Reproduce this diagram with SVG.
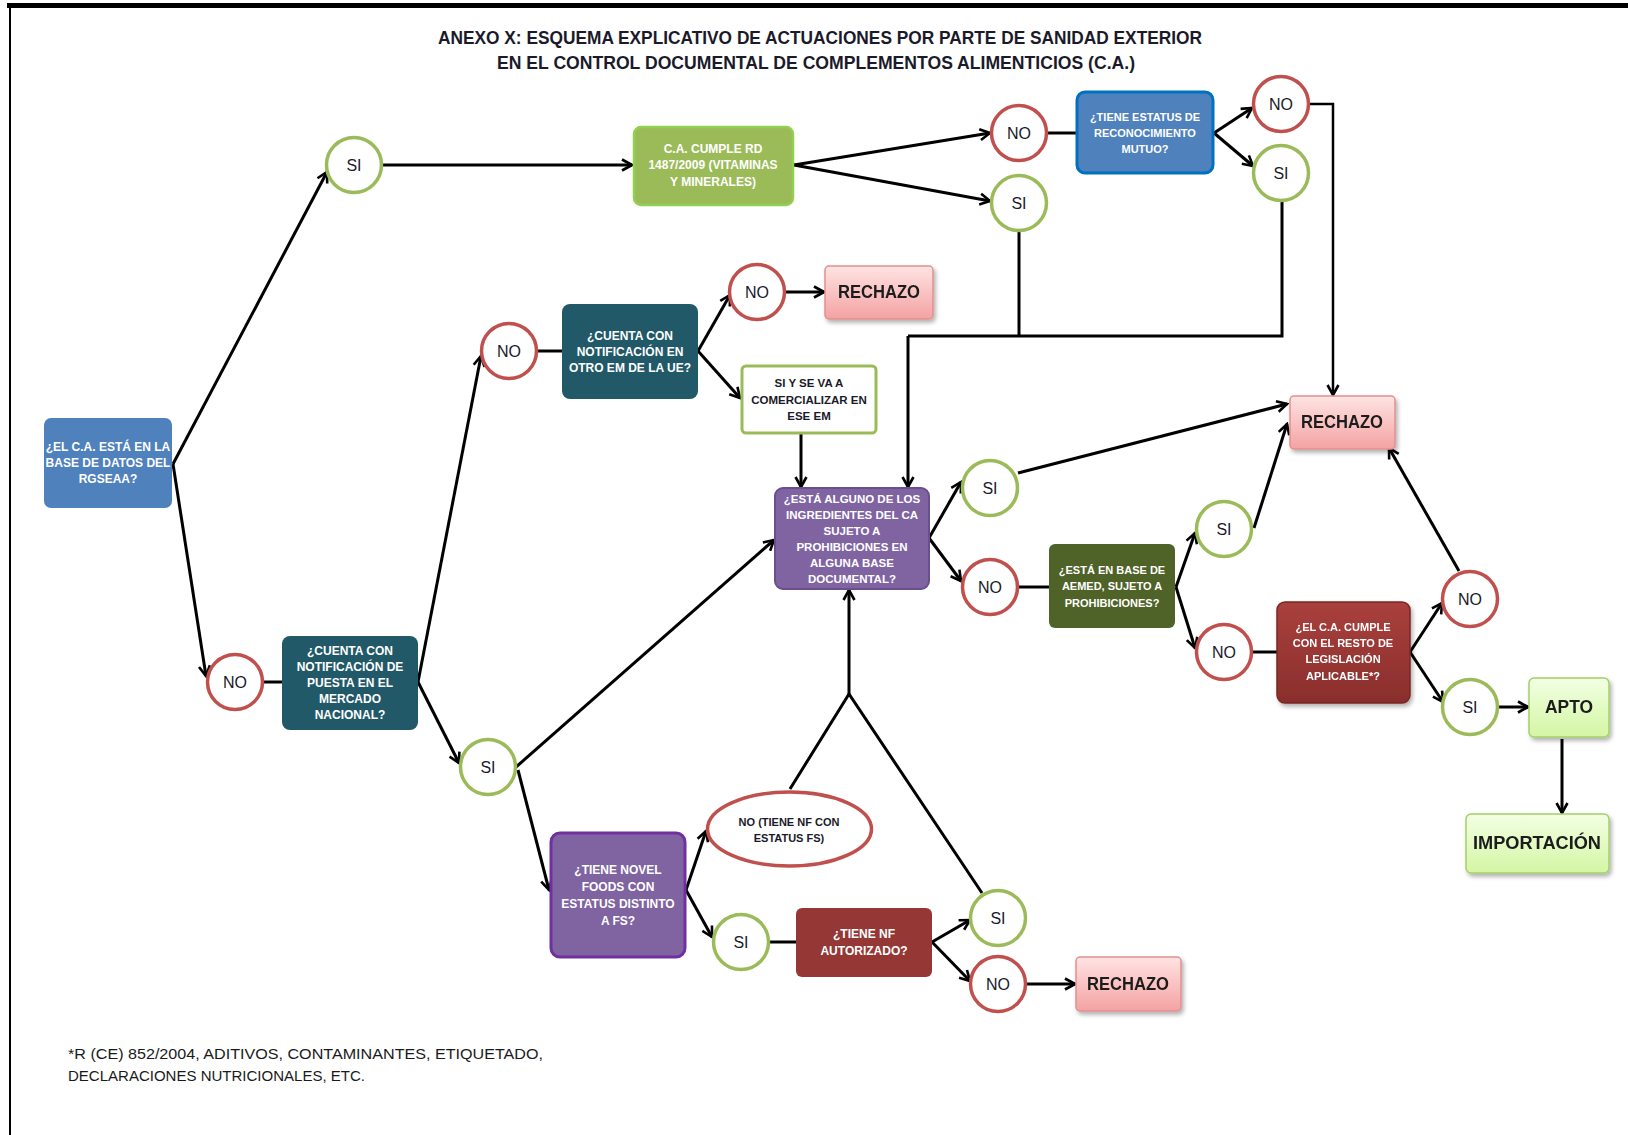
<svg xmlns="http://www.w3.org/2000/svg" width="1628" height="1135" viewBox="0 0 1628 1135" xml:space="preserve">
<style>
text{font-family:"Liberation Sans",Arial,sans-serif}
.bt{font-size:12px;font-weight:bold;fill:#fff;text-anchor:middle}
.dt{font-size:11.5px;font-weight:bold;fill:#1a1a2a;text-anchor:middle}
.ct{font-size:16px;fill:#1a1a2a;text-anchor:middle}
.big{font-size:18px;font-weight:bold;fill:#1a1a1a;text-anchor:middle}
.cg{fill:#fff;stroke:#9bbb59;stroke-width:3.5}
.cr{fill:#fff;stroke:#c0504d;stroke-width:3.5}
.rej{fill:url(#gRej);stroke:#e0918f;stroke-width:1.5}
.ok{fill:url(#gOk);stroke:#a6ce6b;stroke-width:1.5}
#edges path,#edges line{fill:none;stroke:#000;stroke-width:3}
.a{marker-end:url(#ah)}
</style>
<defs>
<linearGradient id="gRej" x1="0" y1="0" x2="0" y2="1"><stop offset="0" stop-color="#ffe3e3"/><stop offset="1" stop-color="#f4a2a2"/></linearGradient>
<linearGradient id="gOk" x1="0" y1="0" x2="0" y2="1"><stop offset="0" stop-color="#f2ffe4"/><stop offset="1" stop-color="#d4f6a4"/></linearGradient>
<linearGradient id="gDr" x1="0" y1="0" x2="0" y2="1"><stop offset="0" stop-color="#a9403d"/><stop offset="1" stop-color="#8a2e2c"/></linearGradient>
<filter id="sh" x="-20%" y="-20%" width="150%" height="160%"><feDropShadow dx="2" dy="3" stdDeviation="2" flood-color="#000" flood-opacity="0.3"/></filter>
<marker id="ah" viewBox="0 0 14 14" refX="12" refY="7" markerWidth="14" markerHeight="14" markerUnits="userSpaceOnUse" orient="auto"><path d="M2,1.5 L12,7 L2,12.5" fill="none" stroke="#000" stroke-width="2.6"/></marker>
</defs>
<rect width="1628" height="1135" fill="#fff"/>
<line x1="7" y1="5.5" x2="1628" y2="5.5" stroke="#000" stroke-width="5"/>
<line x1="10" y1="4" x2="10" y2="1135" stroke="#000" stroke-width="2"/>
<g id="title">
<text x="820" y="44" font-size="18" font-weight="bold" fill="#1a1a2a" text-anchor="middle" textLength="764" lengthAdjust="spacingAndGlyphs">ANEXO X: ESQUEMA EXPLICATIVO DE  ACTUACIONES POR PARTE DE SANIDAD EXTERIOR</text>
<text x="816" y="69" font-size="18" font-weight="bold" fill="#1a1a2a" text-anchor="middle" textLength="638" lengthAdjust="spacingAndGlyphs">EN EL CONTROL DOCUMENTAL DE COMPLEMENTOS ALIMENTICIOS (C.A.)</text>
</g>
<g id="edges">
<line class="a" x1="173" y1="464" x2="327" y2="172"/>
<line class="a" x1="173" y1="464" x2="206" y2="676"/>
<line class="a" x1="383" y1="165" x2="632" y2="165"/>
<line x1="263" y1="682" x2="282" y2="682"/>
<line class="a" x1="418" y1="682" x2="481" y2="356"/>
<line class="a" x1="418" y1="682" x2="459" y2="763"/>
<line x1="537" y1="351" x2="562" y2="351"/>
<line class="a" x1="698" y1="351" x2="730" y2="295"/>
<line class="a" x1="698" y1="351" x2="740" y2="398"/>
<line class="a" x1="786" y1="292" x2="824" y2="292"/>
<line class="a" x1="801" y1="433" x2="801" y2="487"/>
<line class="a" x1="794" y1="165" x2="990" y2="133"/>
<line class="a" x1="794" y1="165" x2="990" y2="201"/>
<line x1="1047" y1="133" x2="1077" y2="133"/>
<line class="a" x1="1214" y1="133" x2="1252" y2="108"/>
<line class="a" x1="1214" y1="133" x2="1253" y2="166"/>
<path class="a" d="M1308,104 H1333 V395" style="stroke-width:2.5"/>
<path d="M1019,231 V336"/>
<path d="M1282,200 V336 H908"/>
<path class="a" d="M908,336 V487"/>
<line class="a" x1="516" y1="767" x2="774" y2="540"/>
<line class="a" x1="518" y1="770" x2="549" y2="890"/>
<line class="a" x1="929" y1="538" x2="961" y2="482"/>
<line class="a" x1="929" y1="538" x2="961" y2="581"/>
<line class="a" x1="1018" y1="473" x2="1287" y2="404"/>
<line x1="1018" y1="587" x2="1049" y2="587"/>
<line class="a" x1="1176" y1="587" x2="1195" y2="533"/>
<line class="a" x1="1176" y1="587" x2="1195" y2="648"/>
<line class="a" x1="1254" y1="528" x2="1287" y2="424"/>
<line x1="1252" y1="652" x2="1277" y2="652"/>
<line class="a" x1="1410" y1="652" x2="1442" y2="603"/>
<line class="a" x1="1410" y1="652" x2="1443" y2="702"/>
<line class="a" x1="1459" y1="571" x2="1389" y2="448"/>
<line class="a" x1="1498" y1="707" x2="1528" y2="707"/>
<line class="a" x1="1562" y1="739" x2="1562" y2="813"/>
<line class="a" x1="686" y1="890" x2="706" y2="831"/>
<line class="a" x1="686" y1="890" x2="712" y2="937"/>
<line x1="769" y1="942" x2="796" y2="942"/>
<line class="a" x1="932" y1="942" x2="970" y2="920"/>
<line class="a" x1="932" y1="942" x2="970" y2="981"/>
<line class="a" x1="1026" y1="984" x2="1075" y2="984"/>
<path d="M790,789 L849,694 L982,893"/>
<path class="a" d="M849,694 V590"/>
</g>
<g id="n-rgseaa"><rect x="44" y="418" width="128" height="90" rx="7" fill="#4f81bd"/>
<text class="bt" x="108" y="451">¿EL C.A. ESTÁ EN LA</text><text class="bt" x="108" y="467">BASE DE DATOS DEL</text><text class="bt" x="108" y="483">RGSEAA?</text></g>
<g id="n-si1"><circle class="cg" cx="354" cy="165" r="27.5"/><text class="ct" x="354" y="171">SI</text></g>
<g id="n-no1"><circle class="cr" cx="235" cy="682" r="27.5"/><text class="ct" x="235" y="688">NO</text></g>
<g id="n-nacional"><rect x="282" y="636" width="136" height="94" rx="8" fill="#215968"/>
<text class="bt" x="350" y="655">¿CUENTA CON</text><text class="bt" x="350" y="671">NOTIFICACIÓN DE</text><text class="bt" x="350" y="687">PUESTA EN EL</text><text class="bt" x="350" y="703">MERCADO</text><text class="bt" x="350" y="719">NACIONAL?</text></g>
<g id="n-no2"><circle class="cr" cx="509" cy="351" r="27.5"/><text class="ct" x="509" y="357">NO</text></g>
<g id="n-otroem"><rect x="562" y="304" width="136" height="95" rx="8" fill="#215968"/>
<text class="bt" x="630" y="340">¿CUENTA CON</text><text class="bt" x="630" y="356">NOTIFICACIÓN EN</text><text class="bt" x="630" y="372">OTRO EM DE LA UE?</text></g>
<g id="n-no3"><circle class="cr" cx="757" cy="292" r="27.5"/><text class="ct" x="757" y="298">NO</text></g>
<g id="n-rechazo1" filter="url(#sh)"><rect class="rej" x="825" y="266" width="108" height="53" rx="4"/><text class="big" x="879" y="298" textLength="82" lengthAdjust="spacingAndGlyphs">RECHAZO</text></g>
<g id="n-siem"><rect x="742" y="366" width="134" height="67" rx="4" fill="#fff" stroke="#9bbb59" stroke-width="3"/>
<text class="dt" x="809" y="387">SI Y SE VA A</text><text class="dt" x="809" y="404">COMERCIALIZAR EN</text><text class="dt" x="809" y="420">ESE EM</text></g>
<g id="n-si2"><circle class="cg" cx="488" cy="767" r="27.5"/><text class="ct" x="488" y="773">SI</text></g>
<g id="n-rd"><rect x="634" y="127" width="159" height="78" rx="7" fill="#9bbb59" stroke="#92d050" stroke-width="2.5"/>
<text class="bt" x="713" y="153">C.A. CUMPLE RD</text><text class="bt" x="713" y="169">1487/2009 (VITAMINAS</text><text class="bt" x="713" y="186">Y MINERALES)</text></g>
<g id="n-no4"><circle class="cr" cx="1019" cy="133" r="27.5"/><text class="ct" x="1019" y="139">NO</text></g>
<g id="n-si3"><circle class="cg" cx="1019" cy="203" r="27.5"/><text class="ct" x="1019" y="209">SI</text></g>
<g id="n-mutuo"><rect x="1077" y="92" width="136" height="81" rx="8" fill="#4f81bd" stroke="#0070c0" stroke-width="3"/>
<text class="bt" x="1145" y="121" style="font-size:11px">¿TIENE ESTATUS DE</text><text class="bt" x="1145" y="137" style="font-size:11px">RECONOCIMIENTO</text><text class="bt" x="1145" y="153" style="font-size:11px">MUTUO?</text></g>
<g id="n-no5"><circle class="cr" cx="1281" cy="104" r="27.5"/><text class="ct" x="1281" y="110">NO</text></g>
<g id="n-si4"><circle class="cg" cx="1281" cy="173" r="27.5"/><text class="ct" x="1281" y="179">SI</text></g>
<g id="n-rechazo2" filter="url(#sh)"><rect class="rej" x="1290" y="396" width="105" height="53" rx="4"/><text class="big" x="1342" y="428" textLength="82" lengthAdjust="spacingAndGlyphs">RECHAZO</text></g>
<g id="n-ingred"><rect x="775" y="488" width="154" height="101" rx="8" fill="#8064a2" stroke="#6a4f8c" stroke-width="2"/>
<text class="bt" x="852" y="503" style="font-size:11.5px">¿ESTÁ  ALGUNO DE LOS</text><text class="bt" x="852" y="519" style="font-size:11.5px">INGREDIENTES  DEL CA</text><text class="bt" x="852" y="535" style="font-size:11.5px">SUJETO A</text><text class="bt" x="852" y="551" style="font-size:11.5px">PROHIBICIONES  EN</text><text class="bt" x="852" y="567" style="font-size:11.5px">ALGUNA BASE</text><text class="bt" x="852" y="583" style="font-size:11.5px">DOCUMENTAL?</text></g>
<g id="n-si5"><circle class="cg" cx="990" cy="488" r="27.5"/><text class="ct" x="990" y="494">SI</text></g>
<g id="n-no6"><circle class="cr" cx="990" cy="587" r="27.5"/><text class="ct" x="990" y="593">NO</text></g>
<g id="n-aemed"><rect x="1049" y="544" width="126" height="84" rx="6" fill="#4f6228"/>
<text class="bt" x="1112" y="574" style="font-size:11px">¿ESTÁ EN BASE DE</text><text class="bt" x="1112" y="590" style="font-size:11px">AEMED, SUJETO A</text><text class="bt" x="1112" y="607" style="font-size:11px">PROHIBICIONES?</text></g>
<g id="n-si6"><circle class="cg" cx="1224" cy="529" r="27.5"/><text class="ct" x="1224" y="535">SI</text></g>
<g id="n-no7"><circle class="cr" cx="1224" cy="652" r="27.5"/><text class="ct" x="1224" y="658">NO</text></g>
<g id="n-legis" filter="url(#sh)"><rect x="1277" y="602" width="133" height="101" rx="8" fill="url(#gDr)" stroke="#7a2624" stroke-width="1.5"/>
<text class="bt" x="1343" y="631" style="font-size:11px">¿EL C.A. CUMPLE</text><text class="bt" x="1343" y="647" style="font-size:11px">CON EL RESTO DE</text><text class="bt" x="1343" y="663" style="font-size:11px">LEGISLACIÓN</text><text class="bt" x="1343" y="680" style="font-size:11px">APLICABLE*?</text></g>
<g id="n-no8"><circle class="cr" cx="1470" cy="599" r="27.5"/><text class="ct" x="1470" y="605">NO</text></g>
<g id="n-si7"><circle class="cg" cx="1470" cy="707" r="27.5"/><text class="ct" x="1470" y="713">SI</text></g>
<g id="n-apto" filter="url(#sh)"><rect class="ok" x="1529" y="678" width="80" height="59" rx="5"/><text class="big" x="1569" y="713" textLength="48" lengthAdjust="spacingAndGlyphs">APTO</text></g>
<g id="n-import" filter="url(#sh)"><rect class="ok" x="1466" y="814" width="143" height="59" rx="5"/><text class="big" x="1537" y="849" textLength="128" lengthAdjust="spacingAndGlyphs">IMPORTACIÓN</text></g>
<g id="n-novel"><rect x="551" y="833" width="134" height="124" rx="9" fill="#8064a2" stroke="#7030a0" stroke-width="3"/>
<text class="bt" x="618" y="874">¿TIENE NOVEL</text><text class="bt" x="618" y="891">FOODS CON</text><text class="bt" x="618" y="908">ESTATUS DISTINTO</text><text class="bt" x="618" y="925">A FS?</text></g>
<g id="n-nofs"><ellipse cx="789.5" cy="829" rx="82" ry="37" fill="#fff" stroke="#c0504d" stroke-width="3.5"/>
<text class="dt" x="789" y="826" style="font-size:11px">NO (TIENE NF CON</text><text class="dt" x="789" y="842" style="font-size:11px">ESTATUS FS)</text></g>
<g id="n-si8"><circle class="cg" cx="741" cy="942" r="27.5"/><text class="ct" x="741" y="948">SI</text></g>
<g id="n-nfaut"><rect x="796" y="908" width="136" height="69" rx="6" fill="#953735"/>
<text class="bt" x="864" y="938">¿TIENE NF</text><text class="bt" x="864" y="955">AUTORIZADO?</text></g>
<g id="n-si9"><circle class="cg" cx="998" cy="918" r="27.5"/><text class="ct" x="998" y="924">SI</text></g>
<g id="n-no9"><circle class="cr" cx="998" cy="984" r="27.5"/><text class="ct" x="998" y="990">NO</text></g>
<g id="n-rechazo3" filter="url(#sh)"><rect class="rej" x="1076" y="957" width="105" height="54" rx="4"/><text class="big" x="1128" y="990" textLength="82" lengthAdjust="spacingAndGlyphs">RECHAZO</text></g>
<g id="footnote">
<text x="68" y="1059" font-size="15.5" fill="#1a1a1a" textLength="475" lengthAdjust="spacingAndGlyphs">*R (CE) 852/2004, ADITIVOS, CONTAMINANTES, ETIQUETADO,</text>
<text x="68" y="1081" font-size="15.5" fill="#1a1a1a" textLength="297" lengthAdjust="spacingAndGlyphs">DECLARACIONES NUTRICIONALES, ETC.</text>
</g>
</svg>
